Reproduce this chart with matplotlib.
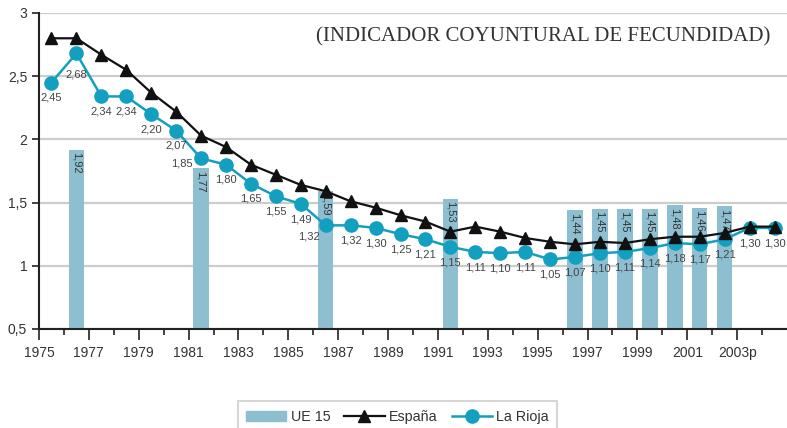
import matplotlib
matplotlib.use('Agg')
import matplotlib.pyplot as plt
from matplotlib.ticker import FixedLocator, FuncFormatter
from matplotlib.patches import Patch
from matplotlib.lines import Line2D

years = list(range(1975, 2005))
rioja = [2.45, 2.68, 2.34, 2.34, 2.20, 2.07, 1.85, 1.80, 1.65, 1.55,
         1.49, 1.32, 1.32, 1.30, 1.25, 1.21, 1.15, 1.11, 1.10, 1.11,
         1.05, 1.07, 1.10, 1.11, 1.14, 1.18, 1.17, 1.21, 1.30, 1.30]
espana = [2.80, 2.80, 2.67, 2.55, 2.37, 2.22, 2.03, 1.94, 1.80, 1.72,
          1.64, 1.59, 1.51, 1.46, 1.40, 1.35, 1.27, 1.31, 1.27, 1.22,
          1.19, 1.17, 1.19, 1.18, 1.21, 1.23, 1.23, 1.26, 1.31, 1.31]
ue_years = [1976, 1981, 1986, 1991, 1996, 1997, 1998, 1999, 2000, 2001, 2002]
ue15 = [1.92, 1.77, 1.59, 1.53, 1.44, 1.45, 1.45, 1.45, 1.48, 1.46, 1.47]
tick_labels = ['1975', '1977', '1979', '1981', '1983', '1985', '1987', '1989',
               '1991', '1993', '1995', '1997', '1999', '2001', '2003p']

BAR = '#8dbfd1'
RIOJA = '#139fbf'
TXT = '#333333'

def coma(v, pos=None):
    s = ('%.2f' % v).rstrip('0').rstrip('.')
    return s.replace('.', ',')

def coma2(v):
    return ('%.2f' % v).replace('.', ',')

fig = plt.figure(figsize=(7.87, 4.28), dpi=100)
ax = fig.add_axes([39/787, 1-329/428, 1-39/787, (329-13)/428])

x = [y - years[0] + 0.5 for y in years]
xb = [y - years[0] + 0.5 for y in ue_years]

ax.bar(xb, [v - 0.5 for v in ue15], bottom=0.5, width=0.62, color=BAR, zorder=2)
for xi, v in zip(xb, ue15):
    ax.text(xi, v - 0.02, coma2(v), rotation=270, ha='center', va='top',
            fontsize=8, color=TXT, family='Liberation Sans', zorder=3)

ax.plot(x, rioja, color=RIOJA, lw=1.8, marker='o', ms=9.5, zorder=4)
ax.plot(x, espana, color='#111111', lw=1.6, marker='^', ms=9, zorder=5)

# etiquetas de La Rioja (debajo del punto, salvo algunas)
special = {1: (0, -15), 6: (-14, -4), 11: (-12, -8)}
for i, (xi, v) in enumerate(zip(x, rioja)):
    dx, dy = special.get(i, (0, -11))
    ax.annotate(coma2(v), (xi, v), xytext=(dx, dy),
                textcoords='offset points', ha='center', va='center',
                fontsize=8, color='#444444', family='Liberation Sans', zorder=6)

ax.set_xlim(0, 30)
ax.set_ylim(0.5, 3)
ax.set_yticks([0.5, 1, 1.5, 2, 2.5, 3])
ax.yaxis.set_major_formatter(FuncFormatter(coma))
ax.set_xticks(list(range(0, 30, 2)))
ax.set_xticklabels(tick_labels)
ax.xaxis.set_minor_locator(FixedLocator(list(range(1, 30, 2))))
ax.grid(axis='y', color='#cccccc', lw=1.6, zorder=0)
ax.set_axisbelow(True)
for s in ['top', 'right']:
    ax.spines[s].set_visible(False)
for s in ['left', 'bottom']:
    ax.spines[s].set_color('#222222')
    ax.spines[s].set_linewidth(1.5)
    ax.spines[s].set_zorder(7)
ax.tick_params(axis='x', which='major', length=8, width=1.2, color='#222222', pad=4.5)
ax.tick_params(axis='x', which='minor', length=4.5, width=1.2, color='#222222')
ax.tick_params(axis='y', length=5, width=1.2, color='#222222', pad=3.5)
for lab in ax.get_xticklabels() + ax.get_yticklabels():
    lab.set_fontsize(10)
    lab.set_color(TXT)
    lab.set_family('Liberation Sans')

fig.text(770/787, 1-37/428, '(INDICADOR COYUNTURAL DE FECUNDIDAD)', ha='right',
         va='center', fontsize=15, color=TXT, family='Liberation Serif')

handles = [Patch(color=BAR),
           Line2D([], [], color='#111111', lw=1.6, marker='^', ms=9),
           Line2D([], [], color=RIOJA, lw=1.8, marker='o', ms=9.5)]
leg = fig.legend(handles, ['UE 15', 'España', 'La Rioja'], loc='upper center',
                 bbox_to_anchor=(0.505, 1-394/428), ncol=3, frameon=True,
                 fancybox=False, handlelength=2.8, handletextpad=0.3,
                 columnspacing=1.0, borderpad=0.6,
                 prop={'family': 'Liberation Sans', 'size': 10.3})
leg.get_frame().set_edgecolor('#cccccc')
leg.get_frame().set_linewidth(1.5)
for t in leg.get_texts():
    t.set_color(TXT)

fig.savefig('out.png', dpi=100)
